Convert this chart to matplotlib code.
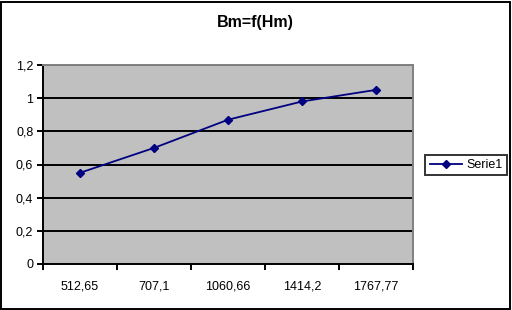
import matplotlib.pyplot as plt
from matplotlib.patches import Rectangle

plt.rcParams['font.family'] = ['Liberation Sans', 'DejaVu Sans']

categories = ['512,65', '707,1', '1060,66', '1414,2', '1767,77']
serie1 = [0.55, 0.70, 0.87, 0.98, 1.05]
y_ticks = [0, 0.2, 0.4, 0.6, 0.8, 1.0, 1.2]
y_labels = ['0', '0,2', '0,4', '0,6', '0,8', '1', '1,2']

fig = plt.figure(figsize=(5.12, 3.10), dpi=100)
ax = fig.add_axes([43/512, 1 - 264/310, 370/512, 199/310])
ax.set_facecolor('#c0c0c0')

x = list(range(len(categories)))
ax.plot(x, serie1, color='#000080', lw=1.3, marker='D', markersize=4,
        label='Serie1', zorder=5)

# horizontal grid (black)
for v in y_ticks[1:]:
    ax.axhline(v, color='black', lw=1.4, zorder=2)

ax.set_xlim(-0.5, len(categories) - 0.5)
ax.set_ylim(0, 1.2)
ax.set_yticks(y_ticks)
ax.set_yticklabels(y_labels, fontsize=9)

# ticks between categories, labels centered on categories
ax.set_xticks([i - 0.5 for i in range(len(categories) + 1)])
ax.set_xticklabels([])
ax.set_xticks(x, minor=True)
ax.set_xticklabels(categories, minor=True, fontsize=9)
ax.tick_params(axis='x', which='minor', length=0, pad=12)
ax.tick_params(axis='both', which='major', length=4, width=1.4, direction='out')
ax.tick_params(axis='y', pad=3)

for s in ['left', 'bottom']:
    ax.spines[s].set_color('black')
    ax.spines[s].set_linewidth(1.4)
for s in ['top', 'right']:
    ax.spines[s].set_color('#808080')
    ax.spines[s].set_linewidth(1.4)

fig.text(255/512, 1 - 23/310, 'Bm=f(Hm)', ha='center', va='center',
         fontsize=11.5, fontweight='bold')

leg = fig.legend(loc='center', bbox_to_anchor=(466/512, 1 - 165/310),
                 fontsize=9, frameon=True, fancybox=False,
                 handlelength=2.6, handletextpad=0.3, borderpad=0.35,
                 borderaxespad=0)
leg.get_frame().set_edgecolor('black')
leg.get_frame().set_linewidth(1.4)

# outer chart border
fig.patches.append(Rectangle((0.5/512, 1.5/310), 509/512, 307/310,
                             transform=fig.transFigure, fill=False,
                             edgecolor='black', lw=1.4))

fig.savefig('out.png', dpi=100)
